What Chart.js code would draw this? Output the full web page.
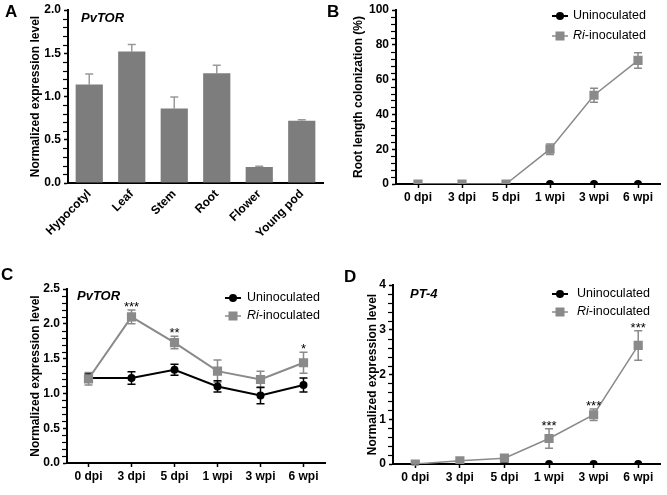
<!DOCTYPE html>
<html>
<head>
<meta charset="utf-8">
<script src="https://cdn.jsdelivr.net/npm/chart.js@4.4.0/dist/chart.umd.min.js"></script>
<style>
  body { margin: 0; background: #fff; }
  #fig { position: relative; width: 667px; height: 495px; font-family: "Liberation Sans", Arial, sans-serif; }
  .pane { position: absolute; }
  .letter { position: absolute; font-weight: bold; font-size: 17px; line-height: 17px; color: #000; }
</style>
</head>
<body>
<div id="fig">
  <div class="pane" style="left:0;top:0;width:333px;height:250px"><canvas id="gA"></canvas></div>
  <div class="pane" style="left:333px;top:0;width:334px;height:250px"><canvas id="gB"></canvas></div>
  <div class="pane" style="left:0;top:250px;width:333px;height:245px"><canvas id="gC"></canvas></div>
  <div class="pane" style="left:333px;top:250px;width:334px;height:245px"><canvas id="gD"></canvas></div>
  <span class="letter" style="left:5px;top:3px">A</span>
  <span class="letter" style="left:327px;top:3px">B</span>
  <span class="letter" style="left:1px;top:266px">C</span>
  <span class="letter" style="left:344px;top:268px">D</span>
</div>
<script>
// dados
const tissues = ['Hypocotyl', 'Leaf', 'Stem', 'Root', 'Flower', 'Young pod'];
const tissueExpr = [1.14, 1.52, 0.86, 1.27, 0.185, 0.72];
const tissueErr = [0.12, 0.08, 0.135, 0.09, 0.01, 0.01];

const timePoints = ['0 dpi', '3 dpi', '5 dpi', '1 wpi', '3 wpi', '6 wpi'];
const seriesNames = ['Uninoculated', 'Ri-inoculated'];

// B - colonização
const colUninoc = [0, 0, 0, 0, 0, 0];
const colRi = [0, 0, 0, 20, 51, 71];
const colRiErr = [0, 0, 0, 3, 4, 4.5];

// C - PvTOR
const torUninoc = [1.22, 1.22, 1.34, 1.10, 0.97, 1.12];
const torUninocErr = [0.06, 0.09, 0.08, 0.08, 0.12, 0.10];
const torRi = [1.21, 2.10, 1.73, 1.32, 1.20, 1.44];
const torRiErr = [0.09, 0.10, 0.09, 0.16, 0.12, 0.15];
const torStars = ['', '***', '**', '', '', '*'];

// D - PT-4
const pt4Uninoc = [0, 0, 0, 0, 0, 0];
const pt4Ri = [0, 0.07, 0.13, 0.57, 1.10, 2.65];
const pt4RiErr = [0.02, 0.02, 0.02, 0.22, 0.13, 0.33];
const pt4Stars = ['', '', '', '***', '***', '***'];

const FONT = '"Liberation Sans", Arial, sans-serif';
const GRAY = '#8a8a8a';
Chart.defaults.font.family = FONT;
Chart.defaults.color = '#000';

// barras de erro, asteriscos, ticks menores, título e legenda
const extras = {
  id: 'extras',
  beforeDatasetsDraw(chart) {
    const ctx = chart.ctx;
    const y = chart.scales.y;
    const o = chart.options.plugins.extras || {};
    // ticks menores no eixo y
    if (o.minor) {
      const x0 = chart.chartArea.left;
      ctx.save();
      ctx.strokeStyle = '#000';
      ctx.lineWidth = 1.2;
      for (let k = 1; k * o.minor < y.max - 1e-9; k++) {
        const v = k * o.minor;
        const r = v / y.options.ticks.stepSize;
        if (Math.abs(r - Math.round(r)) < 1e-6) continue;
        const py = Math.round(y.getPixelForValue(v)) + 0.5;
        ctx.beginPath(); ctx.moveTo(x0 - 5, py); ctx.lineTo(x0, py); ctx.stroke();
      }
      ctx.restore();
    }
    chart.data.datasets.forEach((ds, i) => {
      if (!ds.errors) return;
      const meta = chart.getDatasetMeta(i);
      ctx.save();
      ctx.strokeStyle = ds.errorColor || ds.borderColor;
      ctx.lineWidth = 1.5;
      meta.data.forEach((el, j) => {
        const e = ds.errors[j];
        if (!e) return;
        const v = ds.data[j];
        const top = y.getPixelForValue(v + e);
        const bot = ds.upOnly ? y.getPixelForValue(v) : y.getPixelForValue(v - e);
        ctx.beginPath();
        ctx.moveTo(el.x, bot); ctx.lineTo(el.x, top);
        ctx.moveTo(el.x - 4, top); ctx.lineTo(el.x + 4, top);
        if (!ds.upOnly) { ctx.moveTo(el.x - 4, bot); ctx.lineTo(el.x + 4, bot); }
        ctx.stroke();
      });
      ctx.restore();
    });
  },
  afterDraw(chart) {
    const ctx = chart.ctx;
    const o = chart.options.plugins.extras || {};
    const y = chart.scales.y;
    ctx.save();
    chart.data.datasets.forEach((ds, i) => {
      if (!ds.stars) return;
      const meta = chart.getDatasetMeta(i);
      ctx.fillStyle = '#000';
      ctx.font = '13px ' + FONT;
      ctx.textAlign = 'center';
      ctx.textBaseline = 'alphabetic';
      meta.data.forEach((el, j) => {
        if (!ds.stars[j]) return;
        const top = y.getPixelForValue(ds.data[j] + (ds.errors ? ds.errors[j] : 0));
        ctx.fillText(ds.stars[j], el.x, top + 1);
      });
    });
    if (o.title) {
      ctx.fillStyle = '#000';
      ctx.font = 'italic bold 13px ' + FONT;
      ctx.textAlign = 'left';
      ctx.textBaseline = 'middle';
      ctx.fillText(o.title.text, o.title.x, o.title.y);
    }
    if (o.legend) {
      const L = o.legend;
      const rows = [
        { parts: [{ t: seriesNames[0] }], color: '#000', shape: 'circle', lw: 2 },
        { parts: [{ t: seriesNames[1].split('-')[0], italic: true }, { t: '-' + seriesNames[1].split('-')[1] }], color: GRAY, shape: 'rect', lw: 1.5 }
      ];
      rows.forEach((r, k) => {
        const yy = L.y + k * L.gap;
        ctx.strokeStyle = r.color;
        ctx.fillStyle = r.color;
        ctx.lineWidth = r.lw;
        ctx.beginPath(); ctx.moveTo(L.x - 8, yy); ctx.lineTo(L.x + 8, yy); ctx.stroke();
        if (r.shape === 'circle') {
          ctx.beginPath(); ctx.arc(L.x, yy, 4, 0, Math.PI * 2); ctx.fill();
        } else {
          ctx.fillRect(L.x - 4.5, yy - 4.5, 9, 9);
        }
        ctx.fillStyle = '#000';
        ctx.textAlign = 'left';
        ctx.textBaseline = 'middle';
        let tx = L.tx;
        r.parts.forEach(p => {
          ctx.font = (p.italic ? 'italic ' : '') + '12.5px ' + FONT;
          ctx.fillText(p.t, tx, yy);
          tx += ctx.measureText(p.t).width;
        });
      });
    }
    ctx.restore();
  }
};

function yAxis(o) {
  return {
    min: 0, max: o.max,
    ticks: {
      stepSize: o.major, autoSkip: false, color: '#000', padding: 3,
      font: { size: 12, weight: 'bold' },
      callback: v => v.toFixed(o.dec)
    },
    grid: { drawOnChartArea: false, tickLength: 4, tickColor: '#000', tickWidth: 1.5 },
    border: { color: '#000', width: 2 },
    title: {
      display: true, text: o.title, color: '#000',
      font: { size: 12, weight: 'bold' },
      padding: { top: o.tpad, bottom: 0 }
    },
    afterFit: s => { s.width = o.w; s.paddingTop = 0; s.paddingBottom = 0; }
  };
}

function xAxis(o) {
  return {
    offset: true,
    ticks: {
      color: '#000', autoSkip: false, maxRotation: o.rot || 0, minRotation: o.rot || 0,
      padding: o.tp, font: { size: 12, weight: 'bold' }
    },
    grid: { drawOnChartArea: false, drawTicks: o.ticks !== false, offset: false, tickLength: 4, tickColor: '#000', tickWidth: 1.5 },
    border: { color: '#000', width: 2 },
    afterFit: s => { s.height = o.h; s.paddingLeft = 0; s.paddingRight = 0; }
  };
}

function lineSets(un, unErr, ri, riErr, stars, riWidth) {
  return [
    {
      label: seriesNames[1], data: ri, errors: riErr, stars: stars, order: 0,
      borderColor: GRAY, backgroundColor: GRAY, borderWidth: riWidth,
      pointStyle: 'rect', pointRadius: 6.5, pointBorderWidth: 0, pointBackgroundColor: GRAY
    },
    {
      label: seriesNames[0], data: un, errors: unErr, order: 1,
      borderColor: '#000', backgroundColor: '#000', borderWidth: 2,
      pointStyle: 'circle', pointRadius: 4, pointBorderWidth: 0, pointBackgroundColor: '#000'
    }
  ];
}

const base = {
  responsive: true, maintainAspectRatio: false, animation: false,
  events: []
};

// Gráfico A - tecidos
new Chart(document.getElementById('gA'), {
  type: 'bar',
  data: {
    labels: tissues,
    datasets: [{
      data: tissueExpr, errors: tissueErr, upOnly: true, errorColor: '#9a9a9a',
      backgroundColor: '#7d7d7d', borderWidth: 0,
      barPercentage: 0.64, categoryPercentage: 1
    }]
  },
  options: Object.assign({}, base, {
    layout: { padding: { top: 10, right: 10, left: 0, bottom: 0 } },
    scales: {
      x: xAxis({ h: 67, rot: 45, tp: 4, ticks: false }),
      y: yAxis({ max: 2, major: 0.5, dec: 1, title: 'Normalized expression level', tpad: 28, w: 68 })
    },
    plugins: {
      legend: { display: false }, tooltip: { enabled: false },
      extras: { minor: 0.1, title: { text: 'PvTOR', x: 81, y: 18 } }
    }
  }),
  plugins: [extras]
});

// Gráfico B - colonização
new Chart(document.getElementById('gB'), {
  type: 'line',
  data: {
    labels: timePoints,
    datasets: lineSets(colUninoc, null, colRi, colRiErr, null, 1.5)
  },
  options: Object.assign({}, base, {
    layout: { padding: { top: 10, right: 7, left: 0, bottom: 0 } },
    scales: {
      x: xAxis({ h: 66, tp: 2 }),
      y: yAxis({ max: 100, major: 20, dec: 0, title: 'Root length colonization (%)', tpad: 18, w: 63 })
    },
    plugins: {
      legend: { display: false }, tooltip: { enabled: false },
      extras: { minor: 4, legend: { x: 227, tx: 240, y: 16, gap: 20 } }
    }
  }),
  plugins: [extras]
});

// Gráfico C - PvTOR
new Chart(document.getElementById('gC'), {
  type: 'line',
  data: {
    labels: timePoints,
    datasets: lineSets(torUninoc, torUninocErr, torRi, torRiErr, torStars, 2)
  },
  options: Object.assign({}, base, {
    layout: { padding: { top: 39, right: 8, left: 0, bottom: 0 } },
    scales: {
      x: xAxis({ h: 32, tp: 2 }),
      y: yAxis({ max: 2.5, major: 0.5, dec: 1, title: 'Normalized expression level', tpad: 28, w: 67 })
    },
    plugins: {
      legend: { display: false }, tooltip: { enabled: false },
      extras: {
        minor: 0.1,
        title: { text: 'PvTOR', x: 77, y: 46 },
        legend: { x: 233, tx: 247, y: 48, gap: 18 }
      }
    }
  }),
  plugins: [extras]
});

// Gráfico D - PT-4
new Chart(document.getElementById('gD'), {
  type: 'line',
  data: {
    labels: timePoints,
    datasets: lineSets(pt4Uninoc, null, pt4Ri, pt4RiErr, pt4Stars, 1.5)
  },
  options: Object.assign({}, base, {
    layout: { padding: { top: 35, right: 5, left: 0, bottom: 0 } },
    scales: {
      x: xAxis({ h: 31, tp: 2 }),
      y: yAxis({ max: 4, major: 1, dec: 0, title: 'Normalized expression level', tpad: 32, w: 60 })
    },
    plugins: {
      legend: { display: false }, tooltip: { enabled: false },
      extras: {
        minor: 0.2,
        title: { text: 'PT-4', x: 77, y: 44 },
        legend: { x: 227, tx: 244, y: 44, gap: 18 }
      }
    }
  }),
  plugins: [extras]
});
</script>
</body>
</html>
